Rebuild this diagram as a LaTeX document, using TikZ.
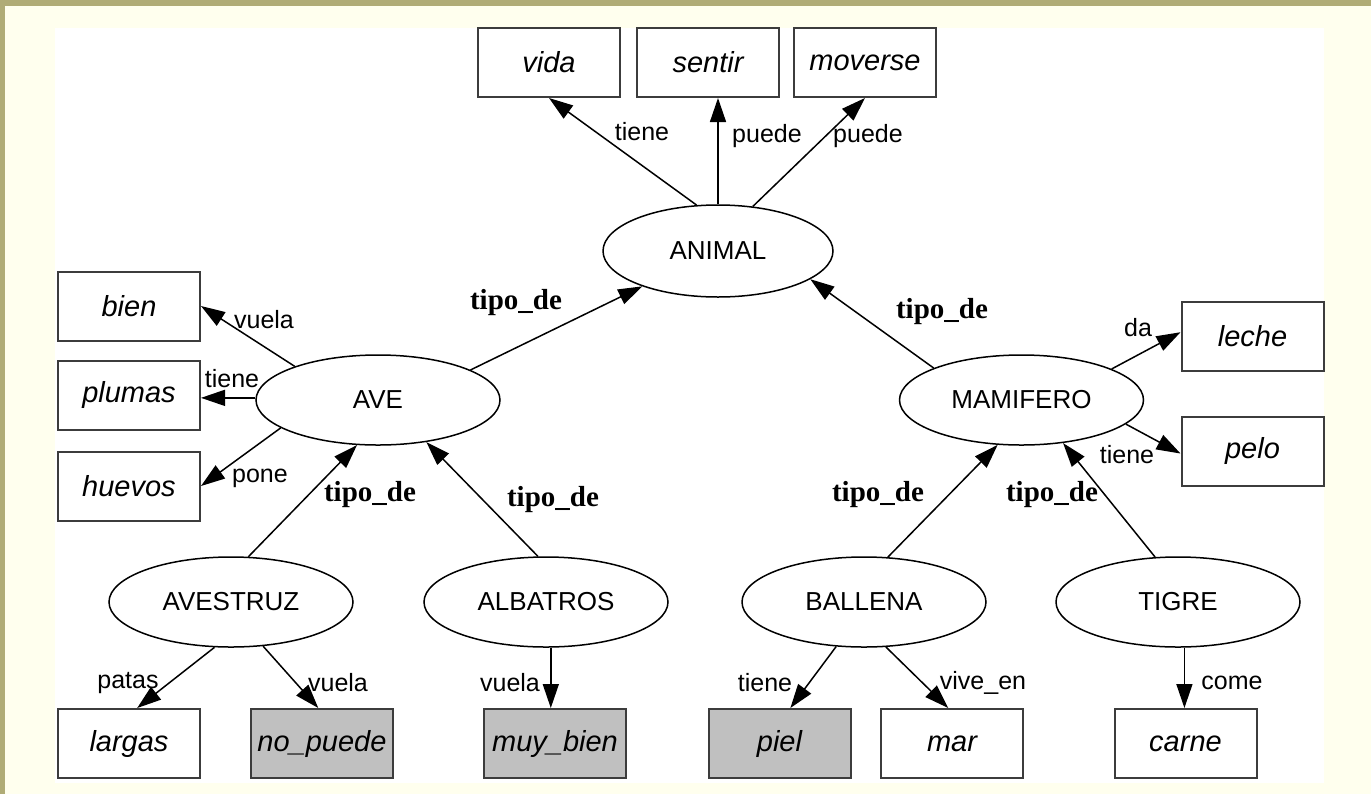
\documentclass[tikz,border=0pt]{standalone}
\usepackage{fontspec}
\setmainfont{Liberation Sans}
\newfontfamily\labelserif{Liberation Serif}
\usetikzlibrary{arrows.meta,shapes.geometric}
\definecolor{frameolive}{RGB}{176,172,118}
\definecolor{frameolivemid}{RGB}{202,198,132}
\definecolor{pagecream}{RGB}{255,255,238}
\definecolor{boxgray}{RGB}{192,192,192}
\definecolor{boxline}{RGB}{60,60,60}

\begin{document}
\begin{tikzpicture}[x=0.5pt,y=-0.5pt,
  concept/.style={ellipse,draw=black,line width=0.75pt,minimum width=122pt,minimum height=45pt,inner sep=0pt,font=\fontsize{13pt}{15pt}\selectfont},
  valuebox/.style={rectangle,draw=boxline,line width=1pt,minimum width=71pt,minimum height=34.5pt,inner sep=0pt,font=\fontsize{14.5pt}{17pt}\selectfont\itshape},
  shadedbox/.style={valuebox,fill=boxgray},
  rel/.style={font=\fontsize{12.5pt}{14pt}\selectfont,inner sep=0pt},
  isa/.style={font=\labelserif\bfseries\fontsize{14.5pt}{17pt}\selectfont,inner sep=0pt},
  link/.style={draw=black,line width=0.75pt,-{Triangle[length=12pt,width=8pt]}}
]
% page frame
\useasboundingbox (0,0) rectangle (1371,794);
\fill[pagecream] (0,0) rectangle (1371,794);
\shade[left color=frameolive,middle color=frameolivemid,right color=frameolive] (0,0) rectangle (1371,5);
\fill[frameolive] (0,0) rectangle (5,794);
\fill[white] (55,28) rectangle (1324,783);

% top level
\node[concept,minimum width=115pt,minimum height=46pt] (animal) at (718,251) {ANIMAL};
\node[valuebox] (vida) at (549,62.5) {vida};
\node[valuebox] (sentir) at (708,62.5) {sentir};
\node[valuebox] (moverse) at (865,62.5) {moverse};

% classes
\node[concept] (ave) at (378,400) {AVE};
\node[concept] (mamifero) at (1021.5,400) {MAMIFERO};
\node[valuebox] (bien) at (129,306) {bien};
\node[valuebox] (plumas) at (129,395) {plumas};
\node[valuebox] (huevos) at (129,486) {huevos};
\node[valuebox] (leche) at (1252.5,336) {leche};
\node[valuebox] (pelo) at (1252.5,451) {pelo};

% instances
\node[concept] (avestruz) at (231,602) {AVESTRUZ};
\node[concept] (albatros) at (546,602) {ALBATROS};
\node[concept] (ballena) at (864,602) {BALLENA};
\node[concept] (tigre) at (1178,602) {TIGRE};
\node[valuebox] (largas) at (129,743.5) {largas};
\node[shadedbox] (nopuede) at (322,743.5) {no\_puede};
\node[shadedbox] (muybien) at (555,743.5) {muy\_bien};
\node[shadedbox] (piel) at (779.5,743.5) {piel};
\node[valuebox] (mar) at (952,743.5) {mar};
\node[valuebox] (carne) at (1185.5,743.5) {carne};

% connectors
\draw[link] (animal.115) -- (vida.south);
\draw[link] (animal.north) -- (animal.north |- sentir.south);
\draw[link] (animal.52) -- (moverse.south);
\draw[link] (ave.158) -- (bien.east);
\draw[link] (ave.179) -- (ave.179 -| plumas.east);
\draw[link] (ave.196) -- (huevos.east);
\draw[link] (ave.18) -- (animal.205);
\draw[link] (mamifero.160) -- (animal.-17);
\draw[link] (mamifero.19) -- (leche.177);
\draw[link] (mamifero.-13) -- (pelo.182);
\draw[link] (avestruz.69) -- (ave.-115);
\draw[link] (albatros.100) -- (ave.-41);
\draw[link] (ballena.62.5) -- (mamifero.-118);
\draw[link] (tigre.117.5) -- (mamifero.-46);
\draw[link] (avestruz.-110) -- (largas.77);
\draw[link] (avestruz.-54.5) -- (nopuede.96.6);
\draw[link] (albatros.-84) -- (albatros.-84 |- muybien.north);
\draw[link] (ballena.-122.6) -- (piel.73);
\draw[link] (ballena.-64.6) -- (mar.96.6);
\draw[link] (tigre.-82) -- (tigre.-82 |- carne.north);

% connector labels
\node[rel] (lvida) at (642,132) {tiene};
\node[rel] (lsentir) at (767,136) {puede};
\node[rel] (lmoverse) at (868,136) {puede};
\node[rel] (lbien) at (264,320) {vuela};
\node[rel] (lplumas) at (232,379) {tiene};
\node[rel] (lhuevos) at (260,478) {pone};
\node[isa] (lave) at (516,303) {tipo\_de};
\node[isa] (lmamifero) at (942,312) {tipo\_de};
\node[rel] (lleche) at (1138,328) {da};
\node[rel] (lpelo) at (1127,455) {tiene};
\node[isa] (lavestruz) at (370,495) {tipo\_de};
\node[isa] (lalbatros) at (553,500) {tipo\_de};
\node[isa] (lballena) at (878,495) {tipo\_de};
\node[isa] (ltigre) at (1052,495) {tipo\_de};
\node[rel] (llargas) at (128,683) {patas};
\node[rel] (lnopuede) at (338,683) {vuela};
\node[rel] (lmuybien) at (510,683) {vuela};
\node[rel] (lpiel) at (765,683) {tiene};
\node[rel] (lmar) at (983,683) {vive\_en};
\node[rel] (lcarne) at (1232,683) {come};
\end{tikzpicture}
\end{document}
